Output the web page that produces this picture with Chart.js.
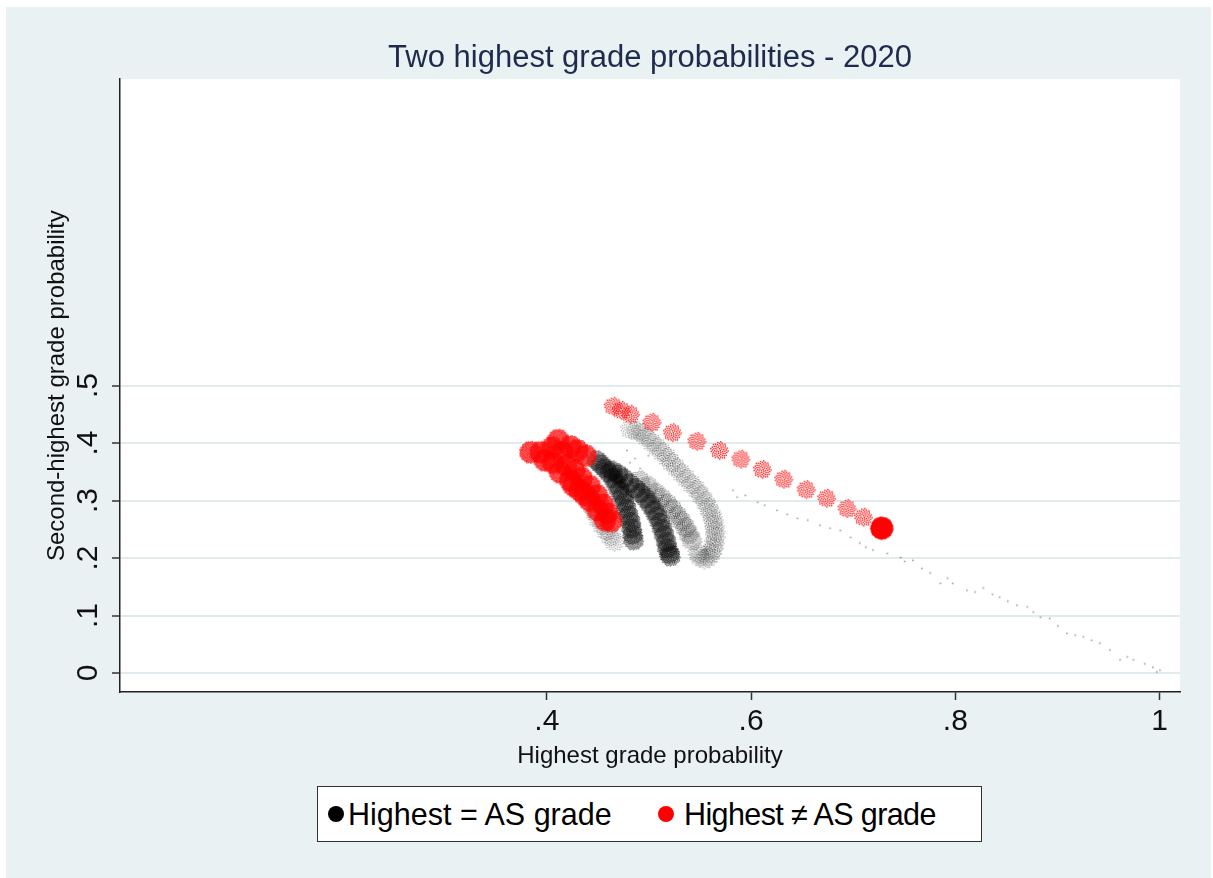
<!DOCTYPE html>
<html>
<head>
<meta charset="utf-8">
<script src="https://cdn.jsdelivr.net/npm/chart.js@4.4.1/dist/chart.umd.min.js"></script>
<style>
  html, body { margin: 0; padding: 0; background: #fff; }
  #wrap { position: relative; width: 1213px; height: 878px; }
  #legend {
    position: absolute; left: 317px; top: 786px; width: 663px; height: 54px;
    background: #fff; border: 1.5px solid #333;
    font-family: Arial, "Liberation Sans", sans-serif; font-size: 30.5px; color: #000;
  }
  #legend .dot { position: absolute; top: 19px; width: 16px; height: 16px; border-radius: 50%; }
  #legend .lab { position: absolute; top: 0; line-height: 54px; white-space: nowrap; }
</style>
</head>
<body>
<div id="wrap">
  <canvas id="chart" width="1213" height="878"></canvas>
  <div id="legend">
    <span class="dot" style="left:10px;background:#000"></span>
    <span class="lab" style="left:30px">Highest = AS grade</span>
    <span class="dot" style="left:340px;background:#ff0000"></span>
    <span class="lab" style="left:366px;letter-spacing:-0.6px">Highest ≠ AS grade</span>
  </div>
</div>
<script>
// tick positions / labels
const xTicks = [0.4, 0.6, 0.8, 1];
const xTickLabels = ['.4', '.6', '.8', '1'];
const yTicks = [0, 0.1, 0.2, 0.3, 0.4, 0.5];
const yTickLabels = ['0', '.1', '.2', '.3', '.4', '.5'];

// Highest = AS grade (black) - dark arcs
const arcAX = [0.449, 0.453, 0.457, 0.461, 0.465, 0.468, 0.471, 0.474, 0.476, 0.478, 0.480, 0.482, 0.483, 0.484, 0.485];
const arcAY = [0.370, 0.363, 0.356, 0.348, 0.339, 0.329, 0.318, 0.308, 0.297, 0.286, 0.274, 0.263, 0.252, 0.241, 0.231];
const arcBX = [0.464, 0.470, 0.475, 0.481, 0.487, 0.492, 0.497, 0.501, 0.505, 0.508, 0.511, 0.513, 0.515, 0.517, 0.518, 0.520, 0.521];
const arcBY = [0.352, 0.346, 0.339, 0.330, 0.321, 0.313, 0.304, 0.294, 0.283, 0.273, 0.262, 0.251, 0.240, 0.228, 0.217, 0.208, 0.203];
// lighter arcs
const arcA2X = [0.437, 0.441, 0.444, 0.447, 0.450, 0.454, 0.458, 0.462, 0.466];
const arcA2Y = [0.318, 0.305, 0.292, 0.281, 0.269, 0.258, 0.248, 0.238, 0.229];
const arcCX = [0.491, 0.499, 0.506, 0.512, 0.518, 0.523, 0.528, 0.532, 0.536, 0.539, 0.542];
const arcCY = [0.335, 0.325, 0.314, 0.305, 0.295, 0.285, 0.274, 0.264, 0.253, 0.242, 0.231];
const arcDX = [0.482, 0.488, 0.493, 0.498, 0.503, 0.508, 0.513, 0.518, 0.522, 0.527, 0.532, 0.537, 0.542, 0.547,
  0.551, 0.555, 0.558, 0.561, 0.563, 0.564, 0.565, 0.565, 0.564, 0.563, 0.561, 0.558, 0.554, 0.550, 0.548];
const arcDY = [0.424, 0.421, 0.418, 0.410, 0.401, 0.393, 0.384, 0.375, 0.366, 0.357, 0.347, 0.338, 0.328, 0.319,
  0.309, 0.299, 0.288, 0.278, 0.267, 0.257, 0.247, 0.237, 0.226, 0.217, 0.208, 0.202, 0.198, 0.202, 0.208];
// sparse trail of single observations
const trailX = [0.478, 0.486, 0.491, 0.481, 0.499, 0.582, 0.586, 0.594, 0.606, 0.613, 0.625, 0.635, 0.645, 0.655,
  0.667, 0.677, 0.687, 0.697, 0.706, 0.712, 0.719, 0.733, 0.746, 0.750, 0.758, 0.767, 0.775, 0.785, 0.792,
  0.797, 0.811, 0.819, 0.827, 0.836, 0.843, 0.851, 0.860, 0.870, 0.876, 0.883, 0.892, 0.900, 0.909, 0.917,
  0.925, 0.933, 0.941, 0.951, 0.961, 0.968, 0.974, 0.985, 0.993, 0.997, 1.000];
const trailY = [0.387, 0.373, 0.356, 0.366, 0.378, 0.318, 0.306, 0.309, 0.297, 0.292, 0.283, 0.276, 0.269, 0.266,
  0.257, 0.252, 0.248, 0.236, 0.226, 0.219, 0.214, 0.208, 0.201, 0.194, 0.196, 0.182, 0.174, 0.156, 0.165,
  0.156, 0.144, 0.141, 0.148, 0.137, 0.132, 0.125, 0.118, 0.115, 0.106, 0.097, 0.095, 0.082, 0.069, 0.066,
  0.063, 0.057, 0.052, 0.040, 0.023, 0.028, 0.023, 0.016, 0.010, 0.002, 0.005];

// Highest != AS grade (red)
const redClusterX = [0.384, 0.394, 0.398, 0.405, 0.411, 0.415, 0.423, 0.430, 0.438, 0.406, 0.419, 0.427, 0.413,
  0.423, 0.434, 0.442, 0.432, 0.449, 0.442, 0.455, 0.450, 0.459, 0.457, 0.463, 0.426, 0.437];
const redClusterY = [0.384, 0.384, 0.370, 0.392, 0.405, 0.384, 0.394, 0.387, 0.378, 0.366, 0.361, 0.352, 0.349,
  0.335, 0.339, 0.325, 0.318, 0.309, 0.300, 0.293, 0.283, 0.278, 0.266, 0.264, 0.326, 0.310];
const redLineX = [0.465, 0.473, 0.482, 0.503, 0.523, 0.547, 0.569, 0.590, 0.611, 0.632, 0.654, 0.674, 0.694, 0.710];
const redLineY = [0.464, 0.457, 0.450, 0.436, 0.418, 0.403, 0.387, 0.372, 0.354, 0.337, 0.319, 0.304, 0.286, 0.271];
const redBigX = [0.728];
const redBigY = [0.252];

const FONT = 'Arial, "Liberation Sans", sans-serif';

function pts(xs, ys) {
  return xs.map((x, i) => ({ x: x, y: ys[i] }));
}

// marqueur "moucheté" : petits points disposés en tournesol dans un disque
function speckle(color, radius, count, dot) {
  const c = document.createElement('canvas');
  const size = Math.ceil(radius * 2 + dot * 2);
  c.width = size;
  c.height = size;
  const g = c.getContext('2d');
  g.fillStyle = color;
  for (let i = 0; i < count; i++) {
    const r = radius * Math.sqrt((i + 0.5) / count);
    const t = i * 2.39996;
    g.fillRect(size / 2 + r * Math.cos(t) - dot / 2, size / 2 + r * Math.sin(t) - dot / 2, dot, dot);
  }
  return c;
}

function series(label, xs, ys, style, radius) {
  return {
    label: label,
    data: pts(xs, ys),
    pointStyle: style,
    pointRadius: radius,
    pointHoverRadius: radius,
    backgroundColor: '#000',
    borderWidth: 0
  };
}

// fond bleu clair + zone de tracé blanche
const backdrop = {
  id: 'backdrop',
  beforeDraw(chart) {
    const { ctx, chartArea: a } = chart;
    ctx.save();
    ctx.fillStyle = '#ffffff';
    ctx.fillRect(0, 0, chart.width, chart.height);
    ctx.fillStyle = '#e9f1f3';
    ctx.fillRect(6, 7, chart.width - 8, chart.height - 7);
    ctx.fillStyle = '#ffffff';
    ctx.fillRect(a.left, a.top, a.right - a.left, a.bottom - a.top);
    ctx.restore();
  }
};

const darkDot = speckle('rgba(0,0,0,0.6)', 10, 120, 1.4);
const midDot = speckle('rgba(0,0,0,0.45)', 10, 80, 1.3);
const lightDot = speckle('rgba(0,0,0,0.35)', 10, 60, 1.3);
const redDense = speckle('rgba(255,0,0,0.85)', 11, 210, 1.4);
const redRing = speckle('rgba(255,0,0,0.9)', 9, 60, 1.4);
const redSolid = speckle('rgba(255,0,0,1)', 11, 400, 1.6);
const tinyDot = speckle('rgba(0,0,0,0.4)', 0.5, 1, 1.6);

const ctx = document.getElementById('chart').getContext('2d');
new Chart(ctx, {
  type: 'scatter',
  data: {
    datasets: [
      series('Highest ≠ AS grade', redBigX, redBigY, redSolid, 11),
      series('Highest ≠ AS grade', redClusterX, redClusterY, redDense, 11),
      series('Highest ≠ AS grade', redLineX, redLineY, redRing, 9),
      series('Highest = AS grade', arcAX, arcAY, darkDot, 10),
      series('Highest = AS grade', arcBX, arcBY, darkDot, 10),
      series('Highest = AS grade', arcA2X, arcA2Y, lightDot, 10),
      series('Highest = AS grade', arcCX, arcCY, midDot, 10),
      series('Highest = AS grade', arcDX, arcDY, lightDot, 10),
      series('Highest = AS grade', trailX, trailY, tinyDot, 1)
    ]
  },
  options: {
    responsive: false,
    animation: false,
    layout: { padding: { left: 6, right: 33, top: 0, bottom: 106 } },
    scales: {
      x: {
        type: 'linear',
        min: -0.018,
        max: 1.02,
        afterBuildTicks: s => { s.ticks = xTicks.map(v => ({ value: v })); },
        afterFit: s => { s.height = 80; },
        ticks: {
          callback: (v, i) => xTickLabels[i],
          color: '#111',
          font: { family: FONT, size: 30 },
          padding: 4,
          maxRotation: 0
        },
        grid: { drawOnChartArea: false, drawTicks: true, tickLength: 8, tickColor: '#333', tickWidth: 1.5 },
        border: { color: '#222', width: 1.5 },
        title: {
          display: true,
          text: 'Highest grade probability',
          color: '#111',
          font: { family: FONT, size: 24 },
          padding: { top: 0, bottom: 1 }
        }
      },
      y: {
        type: 'linear',
        min: -0.033,
        max: 1.033,
        afterBuildTicks: s => { s.ticks = yTicks.map(v => ({ value: v })); },
        afterFit: s => { s.width = 114; },
        ticks: {
          callback: (v, i) => yTickLabels[i],
          color: '#111',
          font: { family: FONT, size: 30 },
          minRotation: 90,
          maxRotation: 90,
          crossAlign: 'center',
          padding: 11
        },
        grid: { color: '#e1ebee', lineWidth: 2, drawTicks: true, tickLength: 8, tickColor: '#333', tickWidth: 1.5 },
        border: { color: '#222', width: 1.5 },
        title: {
          display: true,
          text: 'Second-highest grade probability',
          color: '#111',
          font: { family: FONT, size: 24 },
          padding: { top: 37, bottom: 0 }
        }
      }
    },
    plugins: {
      legend: { display: false },
      tooltip: { enabled: false },
      title: {
        display: true,
        fullSize: false,
        text: 'Two highest grade probabilities - 2020',
        color: '#1e2b4d',
        font: { family: FONT, size: 31, weight: 'normal' },
        padding: { top: 40, bottom: 2 }
      }
    }
  },
  plugins: [backdrop]
});
</script>
</body>
</html>
